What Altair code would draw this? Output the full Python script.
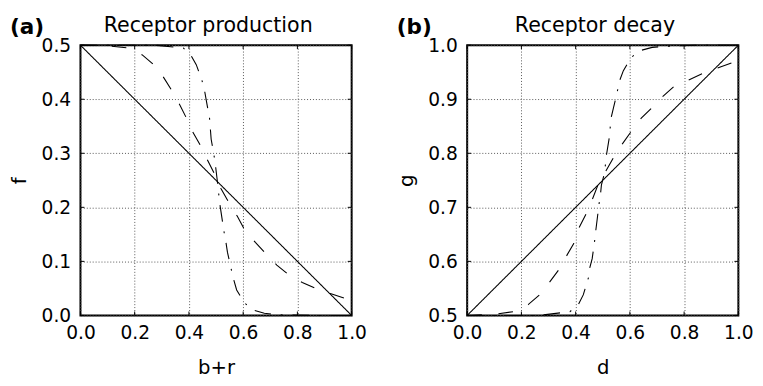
import altair as alt
import pandas as pd

# ---------------- data ----------------
# Panel (a): Receptor production, f vs b+r
a_solid_x = [0.0, 1.0]
a_solid_y = [0.5, 0.0]
a_dash_x = [0.0, 0.10, 0.173, 0.228, 0.270, 0.306, 0.337, 0.367, 0.391, 0.409, 0.443,
            0.467, 0.494, 0.504, 0.518, 0.548, 0.579, 0.605, 0.645, 0.682, 0.724,
            0.766, 0.818, 0.867, 0.924, 0.978, 1.0]
a_dash_y = [0.5, 0.499, 0.495, 0.482, 0.464, 0.441, 0.416, 0.389, 0.365, 0.344, 0.314,
            0.289, 0.262, 0.250, 0.235, 0.208, 0.183, 0.159, 0.135, 0.115, 0.093,
            0.076, 0.061, 0.050, 0.040, 0.031, 0.028]
a_dd_x = [0.0, 0.2, 0.276, 0.379, 0.409, 0.427, 0.448, 0.458, 0.465, 0.476, 0.482,
          0.492, 0.498, 0.504, 0.509, 0.514, 0.520, 0.530, 0.536, 0.542, 0.554,
          0.564, 0.576, 0.605, 0.637, 0.678, 0.736, 0.85, 1.0]
a_dd_y = [0.5, 0.5, 0.5, 0.495, 0.480, 0.464, 0.435, 0.415, 0.395, 0.365, 0.326,
          0.298, 0.277, 0.252, 0.229, 0.206, 0.186, 0.153, 0.137, 0.117, 0.090,
          0.068, 0.047, 0.023, 0.010, 0.004, 0.001, 0.0, 0.0]

# Panel (b): Receptor decay, g vs d
b_solid_x = [0.0, 1.0]
b_solid_y = [0.5, 1.0]
b_dash_x = [0.0, 0.10, 0.170, 0.225, 0.267, 0.303, 0.337, 0.364, 0.393, 0.412, 0.440,
            0.458, 0.482, 0.497, 0.509, 0.543, 0.573, 0.606, 0.642, 0.679, 0.719,
            0.761, 0.819, 0.870, 0.931, 0.979, 1.0]
b_dash_y = [0.5, 0.502, 0.507, 0.520, 0.538, 0.561, 0.584, 0.608, 0.633, 0.662, 0.689,
            0.710, 0.741, 0.750, 0.765, 0.795, 0.818, 0.841, 0.865, 0.883, 0.904,
            0.923, 0.936, 0.948, 0.959, 0.968, 0.971]
b_dd_x = [0.0, 0.2, 0.264, 0.379, 0.410, 0.428, 0.448, 0.452, 0.461, 0.470, 0.474,
          0.479, 0.486, 0.492, 0.495, 0.507, 0.513, 0.525, 0.530, 0.539, 0.552,
          0.561, 0.576, 0.604, 0.638, 0.682, 0.731, 0.85, 1.0]
b_dd_y = [0.5, 0.5, 0.5, 0.507, 0.520, 0.538, 0.571, 0.588, 0.605, 0.638, 0.656,
          0.676, 0.705, 0.726, 0.741, 0.765, 0.795, 0.832, 0.864, 0.883, 0.910,
          0.933, 0.953, 0.977, 0.990, 0.996, 0.998, 1.0, 1.0]

x_ticks = [0.0, 0.2, 0.4, 0.6, 0.8, 1.0]
a_y_ticks = [0.0, 0.1, 0.2, 0.3, 0.4, 0.5]
b_y_ticks = [0.5, 0.6, 0.7, 0.8, 0.9, 1.0]

panel_titles = ["Receptor production", "Receptor decay"]
panel_tags = ["(a)", "(b)"]

series_names = ["solid", "dashed", "dashdot"]
dash_styles = [[1, 0], [15, 17], [17, 10, 2, 10]]

FONT = "DejaVu Sans"
W = 277
H = 276
TICK = 4


def make_df(xs_list, ys_list):
    rows = []
    for name, xs, ys in zip(series_names, xs_list, ys_list):
        for i, (xv, yv) in enumerate(zip(xs, ys)):
            rows.append({"x": xv, "y": yv, "series": name, "idx": i})
    return pd.DataFrame(rows)


def panel(df, y_dom, y_ticks, xtitle, ytitle, title, tag):
    xenc = alt.X("x:Q", scale=alt.Scale(domain=[0, 1], nice=False, zero=False),
                 axis=alt.Axis(values=x_ticks, format=".1f", title=xtitle,
                               labelFlush=False, ticks=False, domain=False,
                               labelPadding=9, titlePadding=15))
    yenc = alt.Y("y:Q", scale=alt.Scale(domain=y_dom, nice=False, zero=False),
                 axis=alt.Axis(values=y_ticks, format=".1f", title=ytitle,
                               labelFlush=False, ticks=False, domain=False,
                               labelPadding=10, titlePadding=12))
    lines = alt.Chart(df).mark_line(color="black", strokeWidth=1.1, strokeCap="butt").encode(
        x=xenc, y=yenc,
        strokeDash=alt.StrokeDash("series:N",
                                  scale=alt.Scale(domain=series_names, range=dash_styles),
                                  legend=None),
        order="idx:Q",
    )
    xt = pd.DataFrame({"x": x_ticks})
    yt = pd.DataFrame({"y": y_ticks})
    bottom = alt.Chart(xt).mark_rule(color="black", strokeWidth=1).encode(
        x=xenc, y=alt.value(H), y2=alt.value(H - TICK))
    top = alt.Chart(xt).mark_rule(color="black", strokeWidth=1).encode(
        x=xenc, y=alt.value(0), y2=alt.value(TICK))
    left = alt.Chart(yt).mark_rule(color="black", strokeWidth=1).encode(
        y=yenc, x=alt.value(0), x2=alt.value(TICK))
    right = alt.Chart(yt).mark_rule(color="black", strokeWidth=1).encode(
        y=yenc, x=alt.value(W - TICK), x2=alt.value(W))
    lab = alt.Chart(pd.DataFrame({"t": [tag]})).mark_text(
        align="left", baseline="alphabetic", font=FONT, fontSize=22,
        fontWeight="bold", color="black").encode(
        text="t:N", x=alt.value(-72), y=alt.value(-11))
    ttl = alt.Chart(pd.DataFrame({"t": [title]})).mark_text(
        align="center", baseline="bottom", font=FONT, fontSize=21,
        color="black").encode(
        text="t:N", x=alt.value(W / 2 - 8), y=alt.value(-9))
    return alt.layer(lines, bottom, top, left, right, lab, ttl).properties(
        width=W, height=H)


df_a = make_df([a_solid_x, a_dash_x, a_dd_x], [a_solid_y, a_dash_y, a_dd_y])
df_b = make_df([b_solid_x, b_dash_x, b_dd_x], [b_solid_y, b_dash_y, b_dd_y])

pa = panel(df_a, [0, 0.5], a_y_ticks, "b+r", "f", panel_titles[0], panel_tags[0])
pb = panel(df_b, [0.5, 1.0], b_y_ticks, "d", "g", panel_titles[1], panel_tags[1])

chart = alt.hconcat(pa, pb, spacing=27).properties(
    padding={"left": 0, "top": 3, "right": 0, "bottom": 0},
    background="white",
).configure_view(
    stroke="black", strokeWidth=2
).configure_axis(
    grid=True, gridColor="#555555", gridDash=[1, 2], gridWidth=1,
    labelFont=FONT, labelFontSize=19, labelColor="black",
    titleFont=FONT, titleFontSize=20, titleColor="black", titleFontWeight="normal",
)

chart.save("out.html", embed_options={"renderer": "svg", "actions": False})
